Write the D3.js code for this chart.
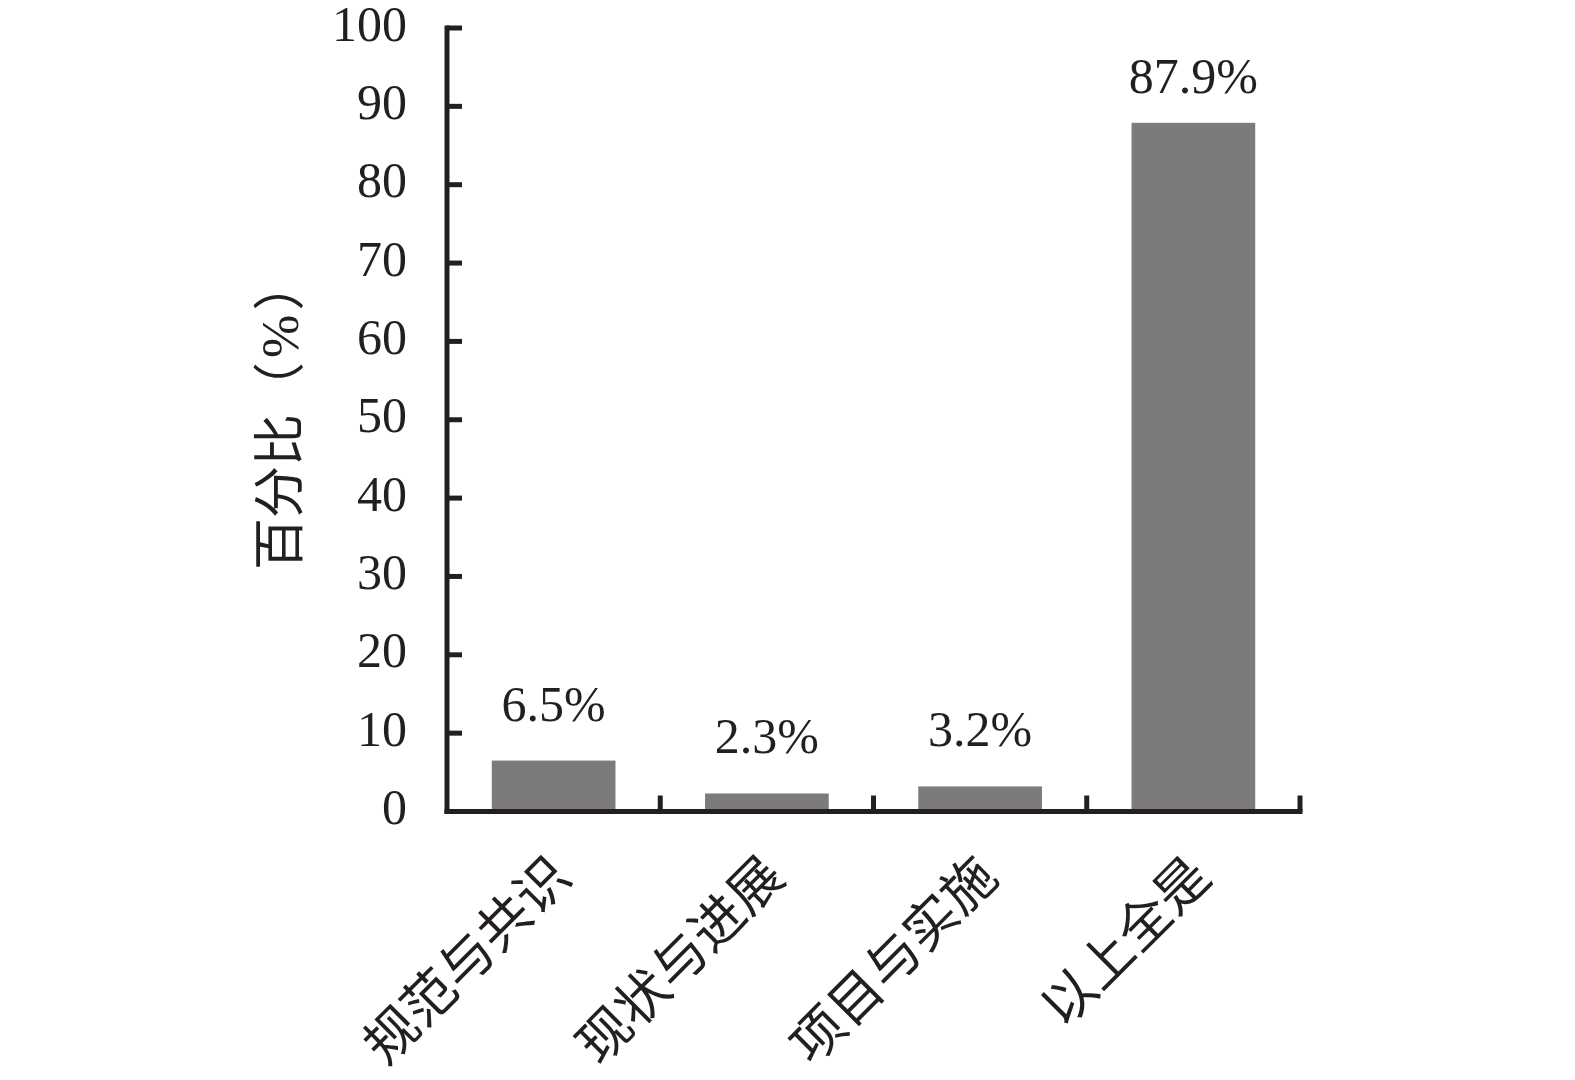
<!DOCTYPE html>
<html>
<head>
<meta charset="utf-8">
<script src="https://cdn.jsdelivr.net/npm/d3@7"></script>
<style>
  html, body { margin: 0; padding: 0; background: #ffffff; }
  svg { display: block; }
</style>
</head>
<body>
<svg id="chart" width="1575" height="1080"></svg>
<script>
const categories = ["规范与共识", "现状与进展", "项目与实施", "以上全是"];
const values = [6.5, 2.3, 3.2, 87.9];
const valueLabels = ["6.5%", "2.3%", "3.2%", "87.9%"];
const yTicks = [0, 10, 20, 30, 40, 50, 60, 70, 80, 90, 100];
const yTitleParts = ["百分比（", "%", "）"];

const ink = "#231f20";
const barColor = "#7c7a7b";
const numFont = "'Liberation Serif', 'Times New Roman', serif";
const cjkFont = "'Liberation Serif', 'Noto Sans CJK SC', sans-serif";

const svg = d3.select("#chart");

const x = d3.scaleBand().domain(categories).range([447, 1300]).paddingInner(0.42).paddingOuter(0.21);
const y = d3.scaleLinear().domain([0, 100]).range([811.5, 28]);

// bars
svg.append("g").selectAll("rect").data(values).join("rect")
  .attr("x", (d, i) => x(categories[i]))
  .attr("width", x.bandwidth())
  .attr("y", d => y(d))
  .attr("height", d => y(0) - y(d))
  .attr("fill", barColor);

// y axis
const yAxis = svg.append("g");
yAxis.append("line")
  .attr("x1", x.range()[0]).attr("x2", x.range()[0])
  .attr("y1", y(100) - 2.5).attr("y2", y(0) + 2.5)
  .attr("stroke", ink).attr("stroke-width", 5);
yAxis.selectAll("line.tick").data(yTicks).join("line")
  .attr("class", "tick")
  .attr("x1", x.range()[0]).attr("x2", x.range()[0] + 15)
  .attr("y1", d => y(d)).attr("y2", d => y(d))
  .attr("stroke", ink).attr("stroke-width", 5);
yAxis.selectAll("text").data(yTicks).join("text")
  .attr("x", x.range()[0] - 40)
  .attr("y", d => y(d))
  .attr("dy", "0.25em")
  .attr("text-anchor", "end")
  .attr("font-family", numFont)
  .attr("font-size", 50)
  .attr("fill", ink)
  .text(d => d);

// x axis
const xAxis = svg.append("g");
xAxis.append("line")
  .attr("x1", x.range()[0] - 2.5).attr("x2", x.range()[1] + 2.5)
  .attr("y1", y(0)).attr("y2", y(0))
  .attr("stroke", ink).attr("stroke-width", 5);
const boundaries = categories.map(c => x(c) - x.step() * x.paddingInner() / 2 + x.step());
xAxis.selectAll("line.tick").data(boundaries).join("line")
  .attr("class", "tick")
  .attr("x1", d => d).attr("x2", d => d)
  .attr("y1", y(0)).attr("y2", y(0) - 16)
  .attr("stroke", ink).attr("stroke-width", 5);

// category labels
svg.append("g").selectAll("text").data(categories).join("text")
  .attr("transform", d => `translate(${x(d) + x.bandwidth() / 2 + 20},${y(0) + 68}) rotate(-45)`)
  .attr("text-anchor", "end")
  .attr("font-family", cjkFont)
  .attr("font-size", 53)
  .attr("fill", ink)
  .text(d => d);

// value labels
svg.append("g").selectAll("text").data(values).join("text")
  .attr("x", (d, i) => x(categories[i]) + x.bandwidth() / 2)
  .attr("y", d => Math.max(y(d) - 40, y(100) + 65))
  .attr("text-anchor", "middle")
  .attr("font-family", numFont)
  .attr("font-size", 50)
  .attr("fill", ink)
  .text((d, i) => valueLabels[i]);

// y title
const title = svg.append("text")
  .attr("transform", `translate(298,570) rotate(-90)`)
  .attr("text-anchor", "start")
  .attr("font-family", cjkFont)
  .attr("font-size", 52)
  .attr("fill", ink);
title.selectAll("tspan").data(yTitleParts).join("tspan")
  .attr("dx", (d, i) => i === 0 ? 0 : 4)
  .text(d => d);
</script>
</body>
</html>
